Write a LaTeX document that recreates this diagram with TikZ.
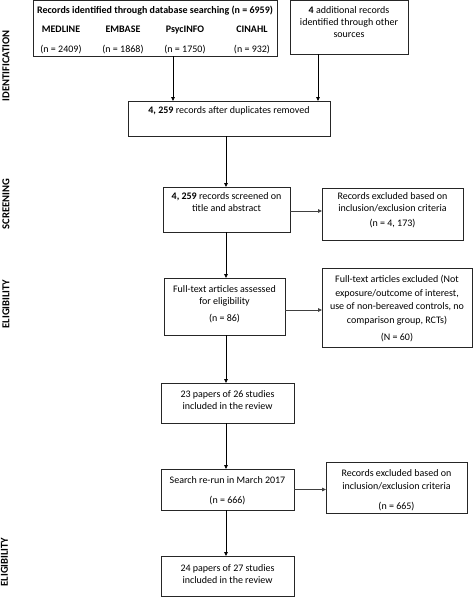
\documentclass[tikz,border=0pt]{standalone}
\usepackage{fontspec}
\setmainfont{Carlito}
\usetikzlibrary{arrows.meta}
\tikzset{
  box/.style={draw=black!85, line width=0.9pt, inner sep=0pt, outer sep=0pt},
  txt/.style={font=\fontsize{10}{12}\selectfont, align=center, inner sep=0pt, anchor=base},
  btxt/.style={font=\fontsize{10}{12}\selectfont\bfseries, inner sep=0pt, anchor=base},
  side/.style={font=\fontsize{10.6}{12}\selectfont\bfseries, rotate=90, inner sep=0pt},
  arr/.style={draw=black, line width=0.8pt, -{Triangle[length=4pt,width=3.6pt]}},
  harr/.style={draw=black!75, line width=0.8pt, -{Triangle[length=4pt,width=3.6pt]}}
}
\begin{document}
\begin{tikzpicture}[x=1pt,y=-1pt]
\useasboundingbox (0,0) rectangle (473,597);
% boxes
\node[box, minimum width=244pt, minimum height=55.5pt] (b1) at (155,28.4) {};
\node[box, minimum width=118pt, minimum height=53.3pt] (b2) at (349,27.5) {};
\node[box, minimum width=202pt, minimum height=35pt] (b3) at (229,118.5) {};
\node[box, minimum width=127pt, minimum height=45pt] (b4) at (226.5,209.5) {};
\node[box, minimum width=141pt, minimum height=52pt] (b5) at (392.5,214) {};
\node[box, minimum width=121pt, minimum height=57pt] (b6) at (224.5,306.5) {};
\node[box, minimum width=150pt, minimum height=79pt] (b7) at (397,307.5) {};
\node[box, minimum width=133pt, minimum height=40pt] (b8) at (227.5,403) {};
\node[box, minimum width=133pt, minimum height=41pt] (b9) at (227.5,489.5) {};
\node[box, minimum width=141pt, minimum height=51pt] (b10) at (396.5,487.5) {};
\node[box, minimum width=133pt, minimum height=40pt] (b11) at (227.5,576) {};
% texts (anchor base = baseline of last line)
\node[btxt] (t1) at (155,13) {Records identified through database searching (n = 6959)};
\node[btxt] (t1a) at (61,32) {MEDLINE};
\node[btxt] (t1b) at (123,32) {EMBASE};
\node[btxt] (t1c) at (185,32) {PsycINFO};
\node[btxt] (t1d) at (252,32) {CINAHL};
\node[txt] (v1a) at (61,52) {(n = 2409)};
\node[txt] (v1b) at (123,52) {(n = 1868)};
\node[txt] (v1c) at (185,52) {(n = 1750)};
\node[txt] (v1d) at (252,52) {(n = 932)};
\node[txt] (t2) at (349,37) {\textbf{4} additional records\\identified through other\\sources};
\node[txt] (t3) at (229,113) {\textbf{4, 259} records after duplicates removed};
\node[txt] (t4) at (226.5,211) {\textbf{4, 259} records screened on\\title and abstract};
\node[txt] (t5) at (392.5,226) {Records excluded based on\\inclusion/exclusion criteria\\[3pt](n = 4, 173)};
\node[txt] (t6) at (224.5,321) {Full-text articles assessed\\for eligibility\\[4.5pt](n = 86)};
\node[txt] (t7) at (397,340) {Full-text articles excluded (Not\\[1.5pt]exposure/outcome of interest,\\[1.5pt]use of non-bereaved controls, no\\[1.5pt]comparison group, RCTs)\\[5pt](N = 60)};
\node[txt] (t8) at (227.5,409) {23 papers of 26 studies\\included in the review};
\node[txt] (t9) at (227.5,503) {Search re-run in March 2017\\[8pt](n = 666)};
\node[txt] (t10) at (396.5,509) {Records excluded based on\\[1pt]inclusion/exclusion criteria\\[8pt](n = 665)};
\node[txt] (t11) at (227.5,583) {24 papers of 27 studies\\included in the review};
% side labels
\node[side] (s1) at (6,66) {IDENTIFICATION};
\node[side] (s2) at (6,204) {SCREENING};
\node[side] (s3) at (6,304) {ELIGIBILITY};
\node[side] (s4) at (4.5,562) {ELIGIBILITY};
% spine coordinates
\coordinate (x1) at (173,0);
\coordinate (x2) at (318,0);
\coordinate (sp) at (226,0);
% connectors
\draw[arr] (b1.south -| x1) -- (b3.north -| x1);
\draw[arr] (b2.south -| x2) -- (b3.north -| x2);
\draw[arr] (b3.south -| sp) -- (b4.north -| sp);
\draw[harr] ([yshift=-1.5pt]b4.east) -- ([yshift=-1.5pt]b4.east -| b5.west);
\draw[arr] (b4.south -| sp) -- (b6.north -| sp);
\draw[harr] ([yshift=-3.5pt]b6.east) -- ([yshift=-3.5pt]b6.east -| b7.west);
\draw[arr] (b6.south -| sp) -- (b8.north -| sp);
\draw[arr] (b8.south -| sp) -- (b9.north -| sp);
\draw[harr] (b9.east) -- (b9.east -| b10.west);
\draw[arr] (b9.south -| sp) -- (b11.north -| sp);
\end{tikzpicture}
\end{document}
